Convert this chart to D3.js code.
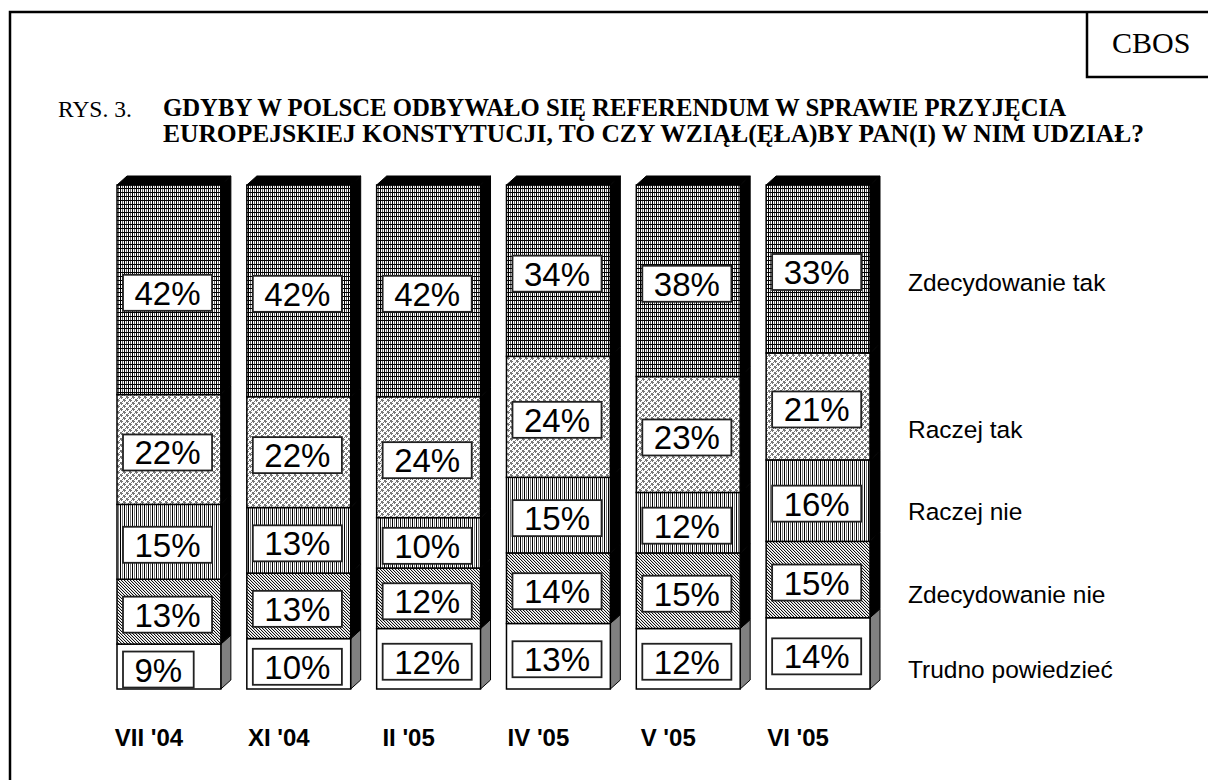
<!DOCTYPE html>
<html><head><meta charset="utf-8">
<script src="https://cdn.jsdelivr.net/npm/d3@7"></script>
<style>
html,body{margin:0;padding:0;background:#fff;}
svg{display:block;}
</style></head>
<body>
<svg id="chart" width="1208" height="780"></svg>
<script>
// ---- data ----
const categories = ["VII '04", "XI '04", "II '05", "IV '05", "V '05", "VI '05"];
const seriesNames = ["Trudno powiedzieć", "Zdecydowanie nie", "Raczej nie", "Raczej tak", "Zdecydowanie tak"];
const trudnoPowiedziec = [9, 10, 12, 13, 12, 14];
const zdecydowanieNie  = [13, 13, 12, 14, 15, 15];
const raczejNie        = [15, 13, 10, 15, 12, 16];
const raczejTak        = [22, 22, 24, 24, 23, 21];
const zdecydowanieTak  = [42, 42, 42, 34, 38, 33];
const titleLine1 = "GDYBY W POLSCE ODBYWAŁO SIĘ REFERENDUM W SPRAWIE PRZYJĘCIA";
const titleLine2 = "EUROPEJSKIEJ KONSTYTUCJI, TO CZY WZIĄŁ(ĘŁA)BY PAN(I) W NIM UDZIAŁ?";

const seriesValues = [trudnoPowiedziec, zdecydowanieNie, raczejNie, raczejTak, zdecydowanieTak];
const table = categories.map((c, i) => {
  const row = {cat: c};
  seriesNames.forEach((s, j) => row[s] = seriesValues[j][i]);
  return row;
});

const svg = d3.select("#chart");
const defs = svg.append("defs");

// ---- patterns ----
function pat(id, w, h, draw) {
  const p = defs.append("pattern").attr("id", id).attr("patternUnits", "userSpaceOnUse")
    .attr("width", w).attr("height", h);
  p.append("rect").attr("width", w).attr("height", h).attr("fill", "#fff");
  draw(p);
}
function px(p, pts, col) {
  pts.forEach(([x, y]) => p.append("rect").attr("x", x).attr("y", y).attr("width", 1).attr("height", 1).attr("fill", col));
}
// Zdecydowanie tak: fine grid
pat("pGrid", 4, 4, p => {
  p.append("rect").attr("x", 0).attr("y", 0).attr("width", 1).attr("height", 4).attr("fill", "#000");
  p.append("rect").attr("x", 2).attr("y", 0).attr("width", 1).attr("height", 4).attr("fill", "#666");
  p.append("rect").attr("x", 0).attr("y", 0).attr("width", 4).attr("height", 1).attr("fill", "#000");
});
// Raczej tak: gray diamond lattice
pat("pDiamond", 6, 6, p => {
  px(p, [[0,0],[1,0],[0,1],[1,1],[3,3],[4,3],[3,4],[4,4],[2,1],[5,4],[1,2],[4,5],[2,5],[5,2]], "#787878");
});
// Raczej nie: vertical lines
pat("pVert", 4, 4, p => {
  p.append("rect").attr("x", 0).attr("y", 0).attr("width", 1).attr("height", 4).attr("fill", "#000");
  p.append("rect").attr("x", 2).attr("y", 0).attr("width", 1).attr("height", 4).attr("fill", "#777");
});
// Zdecydowanie nie: diagonal hatch
pat("pDiag", 3, 3, p => {
  px(p, [[0,0],[1,1],[2,2]], "#111");
  px(p, [[1,0],[2,1],[0,2]], "#d0d0d0");
});

const fills = {
  "Trudno powiedzieć": "#fff",
  "Zdecydowanie nie": "url(#pDiag)",
  "Raczej nie": "url(#pVert)",
  "Raczej tak": "url(#pDiamond)",
  "Zdecydowanie tak": "url(#pGrid)"
};
const sideFills = {
  "Trudno powiedzieć": "#808080",
  "Zdecydowanie nie": "#000",
  "Raczej nie": "#000",
  "Raczej tak": "#000",
  "Zdecydowanie tak": "#000"
};

const serifFont = "'Liberation Serif', 'Times New Roman', Times, serif";
const sansFont = "'Liberation Sans', Arial, Helvetica, sans-serif";

// ---- frame ----
svg.append("path").attr("d", "M10,781 L10,12 L1210,12").attr("fill", "none").attr("stroke", "#000").attr("stroke-width", 2.5);
svg.append("path").attr("d", "M1087,12 L1087,77 L1210,77").attr("fill", "none").attr("stroke", "#000").attr("stroke-width", 2.5);
svg.append("text").attr("x", 1112).attr("y", 53).style("font-family", serifFont)
  .attr("font-size", 30).text("CBOS");

// ---- title ----
svg.append("text").attr("x", 58).attr("y", 117).style("font-family", serifFont).attr("font-size", 23.5).text("RYS. 3.");
svg.append("text").attr("x", 163).attr("y", 116).style("font-family", serifFont).attr("font-size", 24.5)
  .attr("font-weight", "bold").attr("textLength", 903).attr("lengthAdjust", "spacingAndGlyphs").text(titleLine1);
svg.append("text").attr("x", 163).attr("y", 142).style("font-family", serifFont).attr("font-size", 24.5)
  .attr("font-weight", "bold").attr("textLength", 981).attr("lengthAdjust", "spacingAndGlyphs").text(titleLine2);

// ---- scales ----
const x = d3.scaleBand().domain(categories).range([117, 870]).paddingInner(0.2).paddingOuter(0);
const y = d3.scaleLinear().domain([0, 1]).range([689, 185]);
const dx = 10, dy = 9;
const bw = x.bandwidth();

const stack = d3.stack().keys(seriesNames).offset(d3.stackOffsetExpand);
const series = stack(table);

const g = svg.append("g");
series.forEach(s => {
  const key = s.key;
  const grp = g.append("g").attr("class", "series");
  grp.selectAll("path.side").data(s).join("path").attr("class", "side")
    .attr("d", d => {
      const xr = x(d.data.cat) + bw, y0 = y(d[0]), y1 = y(d[1]);
      return `M${xr},${y0} L${xr},${y1} L${xr + dx},${y1 - dy} L${xr + dx},${y0 - dy} Z`;
    })
    .attr("fill", sideFills[key]).attr("stroke", "#000").attr("stroke-width", 1);
  grp.selectAll("rect.front").data(s).join("rect").attr("class", "front")
    .attr("x", d => x(d.data.cat)).attr("y", d => y(d[1]))
    .attr("width", bw).attr("height", d => y(d[0]) - y(d[1]))
    .attr("fill", fills[key]).attr("stroke", "#000").attr("stroke-width", 1.5);
});
// top faces
const topSeries = series[series.length - 1];
g.selectAll("path.top").data(topSeries).join("path").attr("class", "top")
  .attr("d", d => {
    const xl = x(d.data.cat), yt = y(d[1]);
    return `M${xl},${yt} L${xl + dx},${yt - dy} L${xl + bw + dx},${yt - dy} L${xl + bw},${yt} Z`;
  })
  .attr("fill", "#000").attr("stroke", "#000").attr("stroke-width", 1);

// ---- value labels ----
series.forEach(s => {
  const key = s.key;
  s.forEach((d, i) => {
    const val = seriesValues[seriesNames.indexOf(key)][i];
    const txt = val + "%";
    const cy = (y(d[0]) + y(d[1])) / 2 + 3;
    const lg = g.append("g");
    const t = lg.append("text").style("font-family", sansFont).attr("font-size", 33).attr("text-anchor", "middle").text(txt);
    const tw = t.node().getComputedTextLength();
    const boxW = tw + 23, boxH = 36;
    const bx = x(d.data.cat) + 6;
    lg.insert("rect", "text").attr("x", bx).attr("y", cy - boxH / 2).attr("width", boxW).attr("height", boxH)
      .attr("fill", "#fff").attr("stroke", "#222").attr("stroke-width", 1.8);
    t.attr("x", bx + boxW / 2).attr("y", cy + 12);
  });
});

// ---- category labels ----
svg.append("g").selectAll("text").data(categories).join("text")
  .attr("x", d => x(d) + bw / 2 - 20).attr("y", 746)
  .attr("text-anchor", "middle").style("font-family", sansFont).attr("font-weight", "bold").attr("font-size", 24)
  .text(d => d);

// ---- series labels on the right ----
const legendBaselines = [678, 603, 520, 438, 291];
svg.append("g").selectAll("text").data(seriesNames).join("text")
  .attr("x", 908).attr("y", (d, i) => legendBaselines[i])
  .style("font-family", sansFont).attr("font-size", 24.5).text(d => d);
</script>
</body></html>
